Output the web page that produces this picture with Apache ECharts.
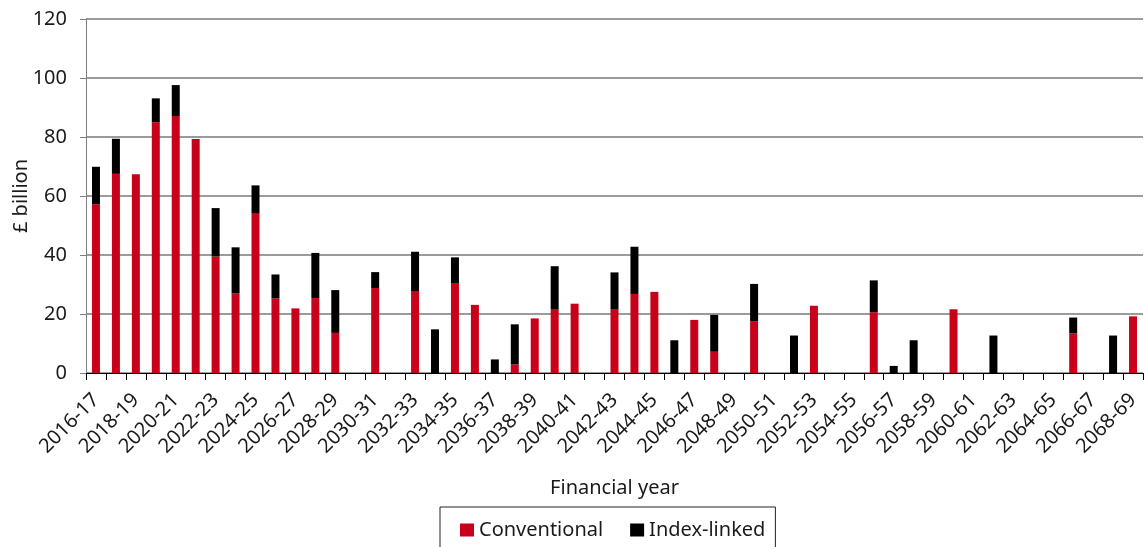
<!DOCTYPE html>
<html>
<head>
<meta charset="utf-8">
<script src="https://cdn.jsdelivr.net/npm/echarts@6/dist/echarts.min.js"></script>
<style>
  html, body { margin: 0; padding: 0; background: #fff; }
  #chart { width: 1144px; height: 547px; }
</style>
</head>
<body>
<div id="chart"></div>
<script>
// Financial years shown on the category axis
const years = [
  '2016-17','2017-18','2018-19','2019-20','2020-21','2021-22','2022-23','2023-24','2024-25','2025-26',
  '2026-27','2027-28','2028-29','2029-30','2030-31','2031-32','2032-33','2033-34','2034-35','2035-36',
  '2036-37','2037-38','2038-39','2039-40','2040-41','2041-42','2042-43','2043-44','2044-45','2045-46',
  '2046-47','2047-48','2048-49','2049-50','2050-51','2051-52','2052-53','2053-54','2054-55','2055-56',
  '2056-57','2057-58','2058-59','2059-60','2060-61','2061-62','2062-63','2063-64','2064-65','2065-66',
  '2066-67','2067-68','2068-69'
];

// Conventional gilts maturing, £ billion
const conventional = [
  57.2, 67.5, 67.4, 85.0, 87.1, 79.3, 39.5, 27.0, 54.2, 25.3,
  21.9, 25.4, 13.6, 0, 28.8, 0, 27.8, 0, 30.5, 23.1,
  0, 2.9, 18.5, 21.7, 23.5, 0, 21.7, 26.8, 27.5, 0,
  18.0, 7.2, 0, 17.6, 0, 0, 22.8, 0, 0, 20.6,
  0, 0, 0, 21.6, 0, 0, 0, 0, 0, 13.4,
  0, 0, 19.2
];

// Index-linked gilts maturing, £ billion
const indexLinked = [
  12.7, 11.9, 0, 8.1, 10.5, 0, 16.4, 15.6, 9.4, 8.1,
  0, 15.3, 14.5, 0, 5.4, 0, 13.3, 14.8, 8.7, 0,
  4.6, 13.6, 0, 14.5, 0, 0, 12.4, 16.0, 0, 11.1,
  0, 12.5, 0, 12.6, 0, 12.7, 0, 0, 0, 10.8,
  2.4, 11.1, 0, 0, 0, 12.7, 0, 0, 0, 5.4,
  0, 12.7, 0
];

const FONT = '"Noto Sans", "Open Sans", sans-serif';
const TEXT = '#1a1a1a';

const chart = echarts.init(document.getElementById('chart'), null, { renderer: 'canvas' });

chart.setOption({
  animation: false,
  textStyle: { fontFamily: FONT, color: TEXT },
  grid: { left: 86, right: 1, top: 19, bottom: 174, containLabel: false, outerBoundsMode: 'none' },
  legend: {
    top: 507,
    left: 440,
    itemGap: 27,
    itemWidth: 14,
    itemHeight: 13,
    icon: 'rect',
    padding: [13, 10, 20, 20],
    borderColor: '#222',
    borderWidth: 1,
    textStyle: { fontFamily: FONT, fontSize: 20, color: TEXT },
    data: ['Conventional', 'Index-linked']
  },
  xAxis: {
    type: 'category',
    data: years,
    name: 'Financial year',
    nameLocation: 'middle',
    nameGap: 105,
    nameMoveOverlap: false,
    nameTextStyle: { fontFamily: FONT, fontSize: 20, color: TEXT },
    axisLine: { lineStyle: { color: '#000', width: 1 } },
    axisTick: { show: true, interval: 0, length: 7, lineStyle: { color: '#000' } },
    axisLabel: {
      interval: 1,
      rotate: 45,
      margin: 24,
      fontFamily: FONT,
      fontSize: 20,
      color: TEXT
    },
    splitLine: { show: false }
  },
  yAxis: {
    type: 'value',
    min: 0,
    max: 120,
    interval: 20,
    name: '£ billion',
    nameLocation: 'middle',
    nameGap: 55,
    nameMoveOverlap: false,
    nameTextStyle: { fontFamily: FONT, fontSize: 20, color: TEXT },
    axisLine: { show: true, lineStyle: { color: '#808080', width: 1 } },
    axisTick: { show: true, inside: false, length: 6, lineStyle: { color: '#808080' } },
    axisLabel: { margin: 19, fontFamily: FONT, fontSize: 20, color: TEXT },
    splitLine: { show: true, lineStyle: { color: '#7a7a7a', width: 1.5 } }
  },
  series: [
    {
      name: 'Conventional',
      type: 'bar',
      stack: 'gilts',
      barWidth: 8,
      itemStyle: { color: '#c8001a' },
      data: conventional
    },
    {
      name: 'Index-linked',
      type: 'bar',
      stack: 'gilts',
      barWidth: 8,
      itemStyle: { color: '#000000' },
      data: indexLinked
    }
  ]
});
</script>
</body>
</html>
